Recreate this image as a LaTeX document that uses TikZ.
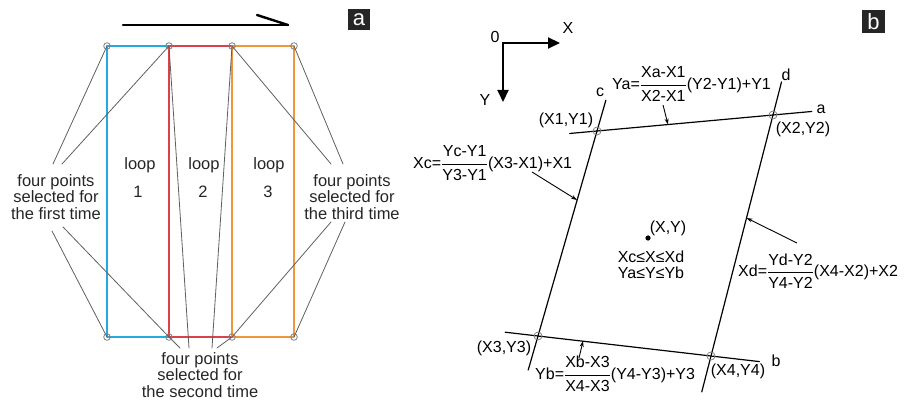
\documentclass[tikz,border=0pt]{standalone}
\usepackage{amsmath, amssymb}
\usepackage{fontspec}
\setmainfont{Liberation Sans}
\usepackage{tikz}
\usetikzlibrary{calc, arrows.meta}
\usepackage{tkz-euclide}
\usepackage{xcolor}
\definecolor{loopblue}{RGB}{35,170,225}
\definecolor{loopred}{RGB}{220,65,75}
\definecolor{looporange}{RGB}{240,150,60}
\definecolor{leadgray}{RGB}{95,95,95}
\newcommand{\fracrow}[2]{$\dfrac{\text{#1}}{\text{#2}}$}

\begin{document}
\begin{tikzpicture}[x=1pt, y=-1pt,
    txta/.style={font=\fontsize{16.5}{16.5}\selectfont, align=center, inner sep=0pt, text=black!85},
    txtb/.style={font=\fontsize{16}{16.5}\selectfont, inner sep=0pt},
    lead/.style={color=leadgray, line width=0.8pt},
    ptmark/.style={color=gray, line width=0.8pt},
    tag/.style={fill=black!85, text=white, inner sep=0pt, minimum width=22pt, minimum height=21pt, font=\fontsize{22}{22}\selectfont},
    quadline/.style={color=black, line width=1.2pt},
    note/.style={black, line width=0.9pt, -{Stealth[length=6pt, width=4pt]}}]
    \useasboundingbox (0,0) rectangle (909,406);
    % panel a
    \tkzDefPoints{107/46/T1, 169/46/T2, 232/46/T3, 294/46/T4,
                  107/337/B1, 169/337/B2, 232/337/B3, 294/337/B4}
    \tkzDefPoints{123/25/S1, 288/25/S2, 257/15/S3}
    \tkzDrawSegments[line width=2.4pt, line cap=round](S1,S2 S3,S2)
    \tkzDrawPolygon[color=loopblue, line width=1.3pt](T1,T2,B2,B1)
    \tkzDrawPolygon[color=loopred, line width=1.3pt](T2,T3,B3,B2)
    \tkzDrawPolygon[color=looporange, line width=1.3pt](T3,T4,B4,B3)
    \tkzDefPoints{53/164/F1, 62/164/F2, 52/231/F3, 63/227/F4}
    \tkzDefPoints{180/348/G1, 189/348/G2, 212/348/G3, 217/348/G4}
    \tkzDefPoints{331/164/H1, 343/164/H2, 331/222/H3, 345/222/H4}
    \tkzDrawSegments[lead](F1,T1 F2,T2 F3,B1 F4,B2)
    \tkzDrawSegments[lead](G1,B2 G2,T2 G3,T3 G4,B3)
    \tkzDrawSegments[lead](H1,T3 H2,T4 H3,B3 H4,B4)
    \foreach \p in {T1,T2,T3,T4,B1,B2,B3,B4}
        \draw[ptmark] (\p) circle[radius=3.3pt];
    \node[txta] (first) at (56,197) {four points\\selected for\\the first time};
    \node[txta] (second) at (200,375) {four points\\selected for\\the second time};
    \node[txta] (third) at (352,197) {four points\\selected for\\the third time};
    \node[txta] (loopa) at (140,165) {loop};
    \node[txta] (loopb) at (204,165) {loop};
    \node[txta] (loopc) at (269,165) {loop};
    \node[txta] (numa) at (138,192) {1};
    \node[txta] (numb) at (203,192) {2};
    \node[txta] (numc) at (268,192) {3};
    \node[tag] (taga) at (359,20) {a};
    % panel b
    \tkzDefPoints{503/43/O, 560/43/Xe, 503/102/Ye}
    \draw[line width=2pt, {Triangle[length=12pt, width=11pt]}-{Triangle[length=12pt, width=11pt]}] (Xe) -- (O) -- (Ye);
    \node[txtb] (zero) at (495,37) {0};
    \node[txtb] (xaxis) at (568,28) {X};
    \node[txtb] (yaxis) at (485,100) {Y};
    \tkzDefPoints{597/131/P1, 773/115/P2, 538/336/P3, 711/356/P4}
    \tkzDrawLine[quadline, add=0.155 and 0.22](P1,P2)
    \tkzDrawLine[quadline, add=0.19 and 0.28](P3,P4)
    \tkzDrawLine[quadline, add=0.15 and 0.166](P1,P3)
    \tkzDrawLine[quadline, add=0.137 and 0.149](P2,P4)
    \foreach \p in {P1,P2,P3,P4}
        \draw[ptmark] (\p) circle[radius=4pt];
    \node[txtb] (la) at (821,109) {a};
    \node[txtb] (lb) at (776,361) {b};
    \node[txtb] (lc) at (600,92) {c};
    \node[txtb] (ld) at (786,75) {d};
    \node[txtb] (p1) at (566,120) {(X1,Y1)};
    \node[txtb] (p2) at (803,129) {(X2,Y2)};
    \node[txtb] (p3) at (504,348) {(X3,Y3)};
    \node[txtb] (p4) at (738,371) {(X4,Y4)};
    \tkzDefPoints{648/238/Q}
    \fill (Q) circle[radius=2.6pt];
    \node[txtb] (pq) at (668,228) {(X,Y)};
    \node[txtb, align=center] (cond) at (651,265) {Xc≤X≤Xd\\Ya≤Y≤Yb};
    \node[txtb, anchor=west] (fya) at (612,84) {Ya=\fracrow{Xa-X1}{X2-X1}(Y2-Y1)+Y1};
    \node[txtb, anchor=west] (fxc) at (413,163) {Xc=\fracrow{Yc-Y1}{Y3-Y1}(X3-X1)+X1};
    \node[txtb, anchor=west] (fxd) at (738,271) {Xd=\fracrow{Yd-Y2}{Y4-Y2}(X4-X2)+X2};
    \node[txtb, anchor=west] (fyb) at (535,374) {Yb=\fracrow{Xb-X3}{X4-X3}(Y4-Y3)+Y3};
    \tkzDefPoints{663/105/Ua, 668/124.5/Va, 532/172/Uc, 577/200/Vc,
                  797/243/Ud, 746.5/218/Vd, 579/358/Ub, 583/341/Vb}
    \draw[note] (Ua) -- (Va);
    \draw[note] (Uc) -- (Vc);
    \draw[note] (Ud) -- (Vd);
    \draw[note] (Ub) -- (Vb);
    \node[tag, minimum width=23pt, minimum height=23pt] (tagb) at (873.5,21.5) {b};
\end{tikzpicture}
\end{document}
